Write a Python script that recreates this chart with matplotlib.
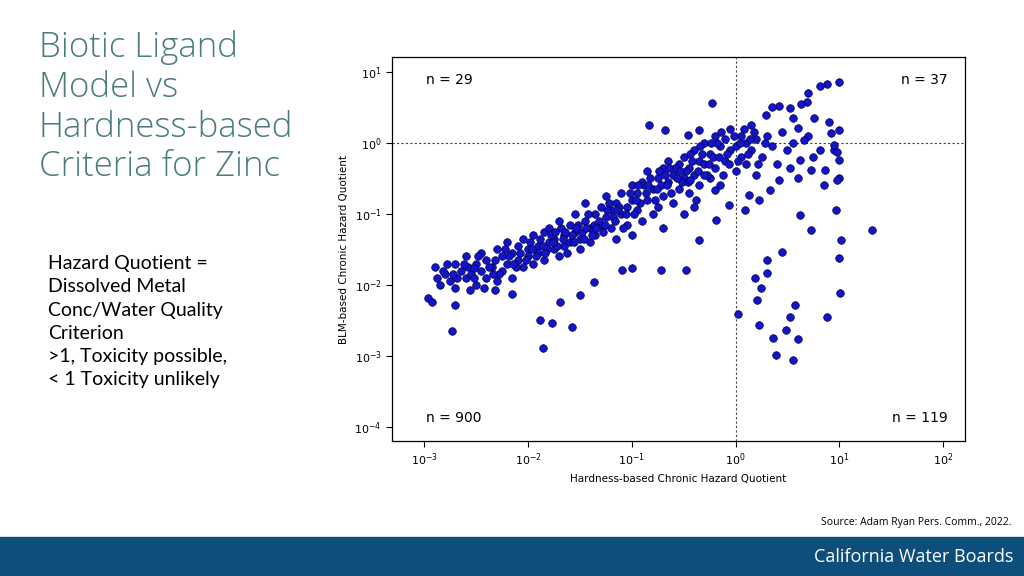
import matplotlib.pyplot as plt
import matplotlib.patches as mpatches
import numpy as np

# log10 values (hardness HQ, BLM HQ)
band_pts = [
    (-2.9,-1.75),(-2.85,-2.0),(-2.8,-1.85),(-2.75,-1.95),(-2.7,-1.7),(-2.7,-2.05),(-2.65,-1.8),(-2.6,-1.9),
    (-2.6,-1.6),(-2.55,-1.85),(-2.5,-1.7),(-2.5,-2.0),(-2.45,-1.55),(-2.45,-1.8),(-2.4,-1.9),(-2.4,-1.65),
    (-2.35,-1.75),(-2.3,-1.5),(-2.3,-1.95),(-2.25,-1.6),(-2.25,-1.8),(-2.2,-1.4),(-2.2,-1.7),(-2.15,-1.55),
    (-2.15,-1.9),(-2.1,-1.45),(-2.1,-1.65),(-2.05,-1.75),(-2.05,-1.35),(-2.0,-1.5),(-2.0,-1.6),(-1.95,-1.3),
    (-1.95,-1.7),(-1.9,-1.45),(-1.9,-1.55),(-1.85,-1.25),(-1.85,-1.65),(-1.8,-1.4),(-1.8,-1.2),(-1.75,-1.5),
    (-1.75,-1.35),(-1.7,-1.1),(-1.7,-1.6),(-1.65,-1.3),(-1.65,-1.45),(-1.6,-1.15),(-1.6,-1.4),(-1.55,-1.25),
    (-1.55,-1.0),(-1.5,-1.35),(-1.5,-1.5),(-1.45,-1.1),(-1.45,-0.85),(-1.4,-1.2),(-1.4,-1.4),(-1.35,-1.0),
    (-1.35,-1.3),(-1.3,-0.9),(-1.3,-1.15),(-1.25,-1.05),(-1.25,-0.75),(-1.2,-1.2),(-1.2,-0.95),(-1.15,-0.85),
    (-1.15,-1.35),(-1.1,-0.7),(-1.1,-1.0),(-1.05,-0.9),(-1.05,-1.15),(-1.0,-0.6),(-1.0,-0.8),(-1.0,-1.3),
    (-0.95,-0.95),(-0.95,-0.7),(-0.9,-0.55),(-0.9,-1.1),(-0.85,-0.8),(-0.85,-0.4),(-0.8,-0.65),(-0.8,-1.0),
    (-0.75,-0.5),(-0.75,-0.9),(-0.7,-0.35),(-0.7,-0.75),(-0.7,-1.2),(-0.65,-0.55),(-0.65,-0.25),(-0.6,-0.45),
    (-0.6,-0.85),(-0.55,-0.3),(-0.55,-0.65),(-0.5,-0.2),(-0.5,-0.5),(-0.5,-1.0),(-0.45,-0.35),(-0.45,-0.7),
    (-0.4,-0.1),(-0.4,-0.45),(-0.4,-0.9),(-0.35,-0.25),(-0.35,-0.6),(-0.3,0.0),(-0.3,-0.3),(-0.25,-0.15),
    (-0.25,-0.5),(-0.2,0.1),(-0.2,-0.35),(-0.15,-0.05),(-0.15,-0.6),(-0.1,0.05),(-0.1,-0.25),(-0.05,-0.1),
    (-0.05,0.2),(0.0,-0.05),(0.0,-0.4),(0.05,0.1),(0.05,-0.2),(0.1,0.0),(0.1,-0.3),(0.15,0.25),(0.15,-0.1),
    (0.2,0.05),(0.2,-0.45),(0.25,-0.2),(0.3,0.1),(0.35,-0.05),(0.4,-0.3),(0.45,0.15),(0.5,-0.1),(0.55,0.0),
    (0.6,-0.5),(0.7,0.1),(0.75,-0.2),(0.85,-0.6),(0.9,0.3),(0.95,-0.1),(1.0,-0.5),
    (-2.88,-1.9),(-2.78,-1.7),(-2.68,-1.9),(-2.58,-1.75),(-2.48,-1.6),(-2.42,-2.05),(-2.32,-1.65),(-2.28,-1.85),
    (-2.18,-1.6),(-2.12,-1.75),(-2.08,-1.55),(-1.98,-1.4),(-1.92,-1.6),(-1.88,-1.35),(-1.82,-1.5),(-1.78,-1.3),
    (-1.72,-1.45),(-1.68,-1.2),(-1.62,-1.55),(-1.58,-1.3),(-1.52,-1.15),(-1.48,-1.25),(-1.42,-1.0),(-1.38,-1.3),
    (-1.32,-1.1),(-1.28,-1.25),(-1.22,-0.85),(-1.18,-1.05),(-1.12,-0.9),(-1.08,-1.2),(-1.02,-0.7),(-0.98,-1.0),
    (-0.92,-0.85),(-0.88,-0.6),(-0.82,-0.5),(-0.78,-0.8),(-0.72,-0.6),(-0.68,-0.45),(-0.62,-0.7),(-0.58,-0.35),
    (-0.52,-0.55),(-0.48,-0.4),(-0.42,-0.25),(-0.38,-0.8),(-0.32,-0.15),(-0.28,-0.45),(-0.22,-0.2),(-0.18,0.0),
    (-0.12,-0.45),(-0.08,-0.15),(-0.02,0.1),(0.02,-0.25),(0.08,0.2),(0.12,-0.15),(0.18,0.15),(0.22,-0.3),(0.28,0.0),
    (-2.82,-1.8),(-2.72,-1.85),(-2.62,-1.7),(-2.52,-1.9),(-2.38,-1.75),(-2.22,-1.5),(-2.02,-1.65),(-1.96,-1.5),
    (-1.86,-1.45),(-1.76,-1.4),(-1.66,-1.35),(-1.56,-1.4),(-1.46,-1.35),(-1.36,-1.15),(-1.26,-1.15),(-1.16,-1.1),
    (-1.06,-1.0),(-0.96,-0.8),(-0.86,-0.7),(-0.76,-0.65),(-0.66,-0.6),(-0.56,-0.5),(-0.46,-0.55),(-0.36,-0.4),
    (-0.26,-0.3),(-0.16,-0.2),(-0.06,-0.3),(0.04,0.0),(0.14,0.05),(-1.84,-1.55),(-1.64,-1.25),(-1.44,-1.2),
    (-1.24,-0.95),(-1.14,-0.95),(-0.94,-0.6),(-0.84,-0.6),(-0.74,-0.4),(-0.64,-0.35),(-0.54,-0.4),(-0.44,-0.15),
    (-0.34,-0.05),(-0.24,0.0),(-0.14,0.15),(-1.34,-1.2),(-1.54,-1.2),(-1.74,-1.25),(-2.14,-1.7),(-2.34,-1.85),
]
outlier_pts = [
    (-2.96,-2.18),(-2.92,-2.24),(-2.73,-2.65),(-2.70,-2.28),(-2.56,-2.07),(-2.52,-1.76),(-2.32,-2.07),
    (-2.15,-2.13),(-1.88,-2.49),(-1.86,-2.89),(-1.77,-2.54),(-1.58,-2.59),(-1.69,-2.24),(-1.50,-2.14),
    (-1.36,-1.96),(-1.00,-1.76),(-0.72,-1.79),(-0.48,-1.79),(-1.09,-1.79),(-0.35,-1.37),(-0.19,-1.08),
    (0.02,-2.41),(0.21,-2.21),(0.24,-2.04),(0.36,-2.75),(0.23,-2.56),(0.49,-2.63),(0.52,-2.46),(0.57,-2.28),
    (0.55,-3.06),(0.39,-2.99),(0.60,-2.77),(0.88,-2.46),(1.01,-2.11),(1.00,-1.62),(1.02,-1.37),(1.31,-1.23),
    (0.19,-1.90),(0.30,-1.65),(0.30,-1.83),(0.45,-1.54),(0.62,-1.01),(0.73,-1.23),(0.97,-0.94),(0.98,-0.52),
    (1.00,-0.24),(0.95,-0.03),(0.92,0.14),(0.88,0.83),(1.00,0.86),(0.81,0.80),(0.69,0.58),(0.63,0.55),
    (0.52,0.49),(0.42,0.52),(0.35,0.51),(0.29,0.39),(0.60,0.21),(0.66,0.04),(0.76,0.35),(0.81,-0.10),
    (0.86,-0.38),(0.73,-0.38),(0.62,-0.24),(0.52,-0.35),(0.42,-0.52),(0.33,-0.66),(0.23,-0.80),(0.13,-0.73),
    (0.09,-0.94),(-0.06,-0.87),(-0.20,-0.66),(-0.30,-0.45),(-0.44,-0.52),(-0.23,0.56),(-0.83,0.25),
    (-0.68,0.18),(-0.35,0.18),(-0.46,0.11),(1.00,0.18),(0.98,-0.13),(0.55,0.35),(0.70,0.70),
]
quadrant_labels = ["n = 29", "n = 37", "n = 900", "n = 119"]

pts = np.array(band_pts + outlier_pts)
hq_hard = 10 ** pts[:, 0]
hq_blm = 10 ** pts[:, 1]

fig = plt.figure(figsize=(10.24, 5.76), dpi=100)
fig.patch.set_facecolor('white')

# bottom banner
fig.add_artist(mpatches.Rectangle((0, 0), 1, 39 / 576, transform=fig.transFigure,
                                  color='#0d4e7a', zorder=0))
fig.text(0.99, 19 / 576, 'California Water Boards', color='white', ha='right', va='center',
         fontsize=13, family='Open Sans')
fig.text(0.988, 1 - 523 / 576, 'Source: Adam Ryan Pers. Comm., 2022.', ha='right', va='center',
         fontsize=7.5, family='Open Sans')

fig.text(0.038, 1 - 30 / 576, 'Biotic Ligand\nModel vs\nHardness-based\nCriteria for Zinc',
         color='#4a7b7e', fontsize=25, family='Open Sans', weight='light', va='top', linespacing=1.2)
fig.text(0.047, 1 - 255 / 576,
         'Hazard Quotient =\nDissolved Metal\nConc/Water Quality\nCriterion\n>1, Toxicity possible,\n< 1 Toxicity unlikely',
         fontsize=14, family='Lato', va='top', linespacing=1.45)

ax = fig.add_axes([392 / 1024, 1 - 441 / 576, 573 / 1024, 384 / 576])
ax.scatter(hq_hard, hq_blm, s=30, c='#1414c8', edgecolors='#000050', linewidths=0.5, zorder=3)
ax.set_xscale('log')
ax.set_yscale('log')
ax.set_xlim(10 ** -3.31, 10 ** 2.21)
ax.set_ylim(10 ** -4.2, 10 ** 1.21)
ax.axvline(1, color='#444444', ls=(0, (2, 2)), lw=0.8)
ax.axhline(1, color='#444444', ls=(0, (2, 2)), lw=0.8)
ax.minorticks_off()
ax.set_xticks([1e-3, 1e-2, 1e-1, 1, 10, 100])
ax.set_yticks([1e-4, 1e-3, 1e-2, 1e-1, 1, 10])
ax.tick_params(labelsize=8, length=4)
ax.set_xlabel('Hardness-based Chronic Hazard Quotient', fontsize=7.5)
ax.set_ylabel('BLM-based Chronic Hazard Quotient', fontsize=7.5)
for sp in ax.spines.values():
    sp.set_linewidth(0.9)

pos = [(0.06, 0.94, 'left'), (0.97, 0.94, 'right'), (0.06, 0.06, 'left'), (0.97, 0.06, 'right')]
for (x, y, ha), lab in zip(pos, quadrant_labels):
    ax.text(x, y, lab, transform=ax.transAxes, ha=ha, va='center', fontsize=10)

fig.savefig('out.png', dpi=100)
